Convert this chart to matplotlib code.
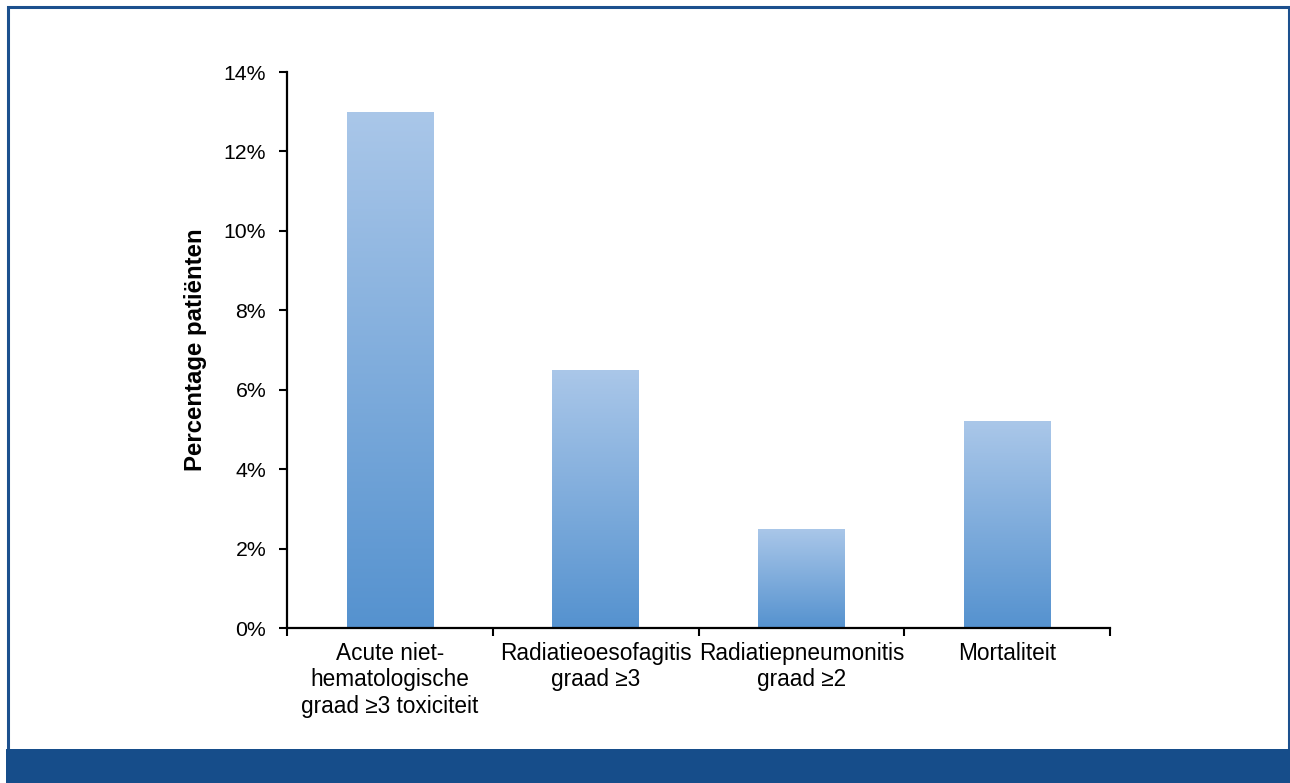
import numpy as np
import matplotlib.pyplot as plt
from matplotlib.colors import LinearSegmentedColormap
from matplotlib.patches import Rectangle

plt.rcParams['font.family'] = ['Liberation Sans', 'DejaVu Sans']

categories = ['Acute niet-\nhematologische\ngraad ≥3 toxiciteit',
              'Radiatieoesofagitis\ngraad ≥3',
              'Radiatiepneumonitis\ngraad ≥2',
              'Mortaliteit']
values = [13.0, 6.5, 2.5, 5.2]
yticks = [0, 2, 4, 6, 8, 10, 12, 14]
ylabel = 'Percentage patiënten'

W, H = 1290, 783
fig = plt.figure(figsize=(W / 100, H / 100), dpi=100)
ax = fig.add_axes([287 / W, 1 - 628 / H, 823 / W, 556 / H])

# gradient fill per bar, light at the top, darker at the bottom
cmap = LinearSegmentedColormap.from_list('bar', ['#5592cf', '#aac7e9'])
grad = np.linspace(0, 1, 256).reshape(-1, 1)
x = np.arange(len(values))
bars = ax.bar(x, values, width=0.42, color='none', edgecolor='none', zorder=2)
for b in bars:
    x0, w, h = b.get_x(), b.get_width(), b.get_height()
    im = ax.imshow(grad, extent=[x0, x0 + w, 0, h], origin='lower',
                   aspect='auto', cmap=cmap, zorder=2)
    im.set_clip_path(b)

ax.set_xlim(-0.5, len(values) - 0.5)
ax.set_ylim(0, 14)
ax.set_yticks(yticks)
ax.set_yticklabels([f'{t}%' for t in yticks], fontsize=15.3)
ax.set_xticks(x)
ax.set_xticklabels(categories, fontsize=16.3, linespacing=1.2)
ax.tick_params(axis='x', length=0, pad=10)
ax.set_xticks(np.arange(len(values) + 1) - 0.5, minor=True)
ax.tick_params(axis='x', which='minor', length=6, width=1.5, direction='out')
ax.tick_params(axis='y', length=6, width=1.5, direction='out', pad=9)
for s in ['top', 'right']:
    ax.spines[s].set_visible(False)
for s in ['left', 'bottom']:
    ax.spines[s].set_linewidth(1.6)
ax.set_ylabel(ylabel, fontsize=17.3, fontweight='bold', labelpad=12)

# blue frame and bottom band
frame_col = '#1c508e'
fig.add_artist(Rectangle((7.5 / W, 30 / H), (1288.5 - 7.5) / W, (776.5 - 30) / H,
                         transform=fig.transFigure, fill=False,
                         edgecolor=frame_col, linewidth=2.2))
fig.add_artist(Rectangle((6 / W, 0), (W - 6) / W, 34 / H,
                         transform=fig.transFigure, facecolor='#164d8a',
                         edgecolor='none'))

fig.savefig('out.png', dpi=100)
